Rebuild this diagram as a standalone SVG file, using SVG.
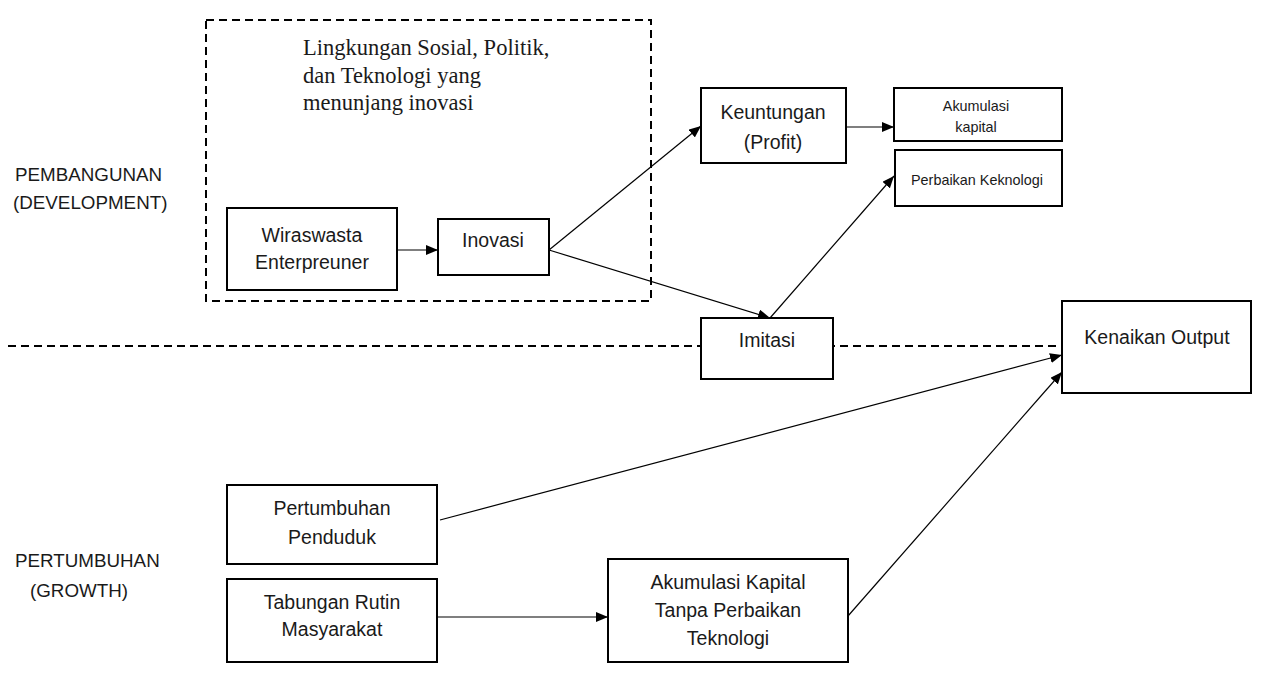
<svg xmlns="http://www.w3.org/2000/svg" width="1270" height="680" viewBox="0 0 1270 680">
<style>
.box{fill:#fff;stroke:#000;stroke-width:2}
.t{font-family:"Liberation Sans",Arial,sans-serif;font-size:19.5px;fill:#1a1a1a;text-anchor:middle;dominant-baseline:central}
.s{font-size:14.4px}
.lbl{font-family:"Liberation Sans",Arial,sans-serif;font-size:18.8px;fill:#1a1a1a;dominant-baseline:central}
.serif{font-family:"Liberation Serif","Times New Roman",serif;font-size:22.5px;fill:#1a1a1a;dominant-baseline:central}
.c{fill:none;stroke:#000;stroke-width:1.2;marker-end:url(#ah)}
.dash{fill:none;stroke:#000;stroke-width:2;stroke-dasharray:8 5}
</style>
<defs>
<marker id="ah" viewBox="0 0 12 10" refX="12" refY="5" markerWidth="12" markerHeight="10" markerUnits="userSpaceOnUse" orient="auto">
<path d="M0,0 L12,5 L0,10 z" fill="#000"/>
</marker>
</defs>
<rect width="1270" height="680" fill="#fff"/>
<g id="section-labels">
<text class="lbl" x="15" y="174">PEMBANGUNAN</text>
<text class="lbl" x="13" y="202">(DEVELOPMENT)</text>
<text class="lbl" x="15" y="560">PERTUMBUHAN</text>
<text class="lbl" x="30" y="590">(GROWTH)</text>
</g>
<g id="environment">
<rect class="dash" x="206" y="20" width="445" height="281"/>
<text class="serif" x="303" y="47">Lingkungan Sosial, Politik,</text>
<text class="serif" x="303" y="75">dan Teknologi yang</text>
<text class="serif" x="303" y="102">menunjang inovasi</text>
</g>
<line id="divider" class="dash" x1="8" y1="346" x2="1062" y2="346"/>
<g id="connectors">
<line class="c" x1="397" y1="250" x2="438" y2="250"/>
<line class="c" x1="549" y1="250" x2="701" y2="126"/>
<line class="c" x1="549" y1="250" x2="770" y2="318"/>
<line class="c" x1="846" y1="127" x2="894" y2="127"/>
<line class="c" x1="770" y1="318" x2="894" y2="176"/>
<line class="c" x1="440" y1="520" x2="1062" y2="355"/>
<line class="c" x1="848" y1="616" x2="1062" y2="372"/>
<line class="c" x1="437" y1="617" x2="608" y2="617"/>
</g>
<g id="wiraswasta">
<rect class="box" x="227" y="208" width="170" height="82"/>
<text class="t" x="312" y="235">Wiraswasta</text>
<text class="t" x="312" y="262">Enterpreuner</text>
</g>
<g id="inovasi">
<rect class="box" x="438" y="219" width="111" height="56"/>
<text class="t" x="493" y="240">Inovasi</text>
</g>
<g id="keuntungan">
<rect class="box" x="701" y="88" width="145" height="75"/>
<text class="t" x="773" y="112">Keuntungan</text>
<text class="t" x="773" y="142">(Profit)</text>
</g>
<g id="akumulasi-kapital">
<rect class="box" x="894" y="88" width="168" height="53"/>
<text class="t s" x="976" y="106">Akumulasi</text>
<text class="t s" x="976" y="127">kapital</text>
</g>
<g id="perbaikan-keknologi">
<rect class="box" x="895" y="150" width="167" height="56"/>
<text class="t s" x="977" y="180">Perbaikan Keknologi</text>
</g>
<g id="imitasi">
<rect class="box" x="701" y="318" width="132" height="61"/>
<text class="t" x="767" y="340">Imitasi</text>
</g>
<g id="kenaikan-output">
<rect class="box" x="1062" y="301" width="189" height="92"/>
<text class="t" x="1157" y="337">Kenaikan Output</text>
</g>
<g id="pertumbuhan-penduduk">
<rect class="box" x="227" y="485" width="210" height="79"/>
<text class="t" x="332" y="508">Pertumbuhan</text>
<text class="t" x="332" y="537">Penduduk</text>
</g>
<g id="tabungan">
<rect class="box" x="227" y="579" width="210" height="83"/>
<text class="t" x="332" y="602">Tabungan Rutin</text>
<text class="t" x="332" y="629">Masyarakat</text>
</g>
<g id="akumulasi-tanpa">
<rect class="box" x="608" y="559" width="240" height="103"/>
<text class="t" x="728" y="582">Akumulasi Kapital</text>
<text class="t" x="728" y="610">Tanpa Perbaikan</text>
<text class="t" x="728" y="638">Teknologi</text>
</g>
</svg>
